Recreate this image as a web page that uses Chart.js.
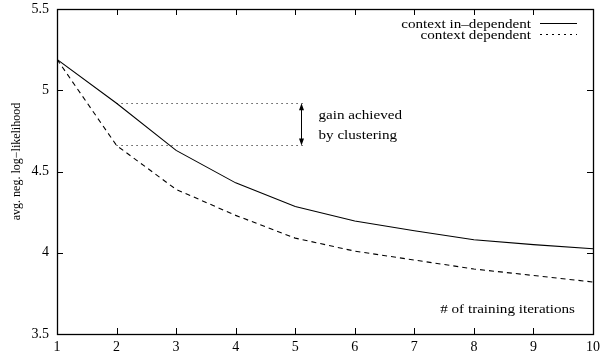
<!DOCTYPE html>
<html>
<head>
<meta charset="utf-8">
<script src="https://cdn.jsdelivr.net/npm/chart.js@4/dist/chart.umd.min.js"></script>
<style>
  html, body { margin: 0; padding: 0; background: #fff; }
  #wrap { width: 605px; height: 353px; position: relative; }
</style>
</head>
<body>
<div id="wrap"><canvas id="chart1" width="605" height="353"></canvas></div>
<script>
// data
const iterations = [1, 2, 3, 4, 5, 6, 7, 8, 9, 10];
const ctxIndependent = [5.19, 4.92, 4.63, 4.43, 4.285, 4.195, 4.135, 4.08, 4.05, 4.025];
const ctxDependent = [5.19, 4.66, 4.39, 4.23, 4.09, 4.01, 3.955, 3.9, 3.86, 3.82];
const seriesLabels = ['context in\u2013dependent', 'context dependent'];
const yTicks = [3.5, 4, 4.5, 5, 5.5];
const xTicks = iterations;

// "gain achieved by clustering" marker
const gainFrom = 2;
const gainTo = 5.15;
const gainArrowX = 5.1;
const gainTop = 4.92;
const gainBottom = 4.66;
const gainText = ['gain achieved', 'by clustering'];

const yTitle = 'avg. neg. log\u2212likelihood';
const xTitle = '# of training iterations';

const serif = '"Liberation Serif", "DejaVu Serif", serif';
const stretch = 1.26; // text in the picture is wider than tall

function wideText(ctx, txt, x, y, align) {
  ctx.save();
  ctx.translate(x, y);
  ctx.scale(stretch, 1);
  ctx.textAlign = align;
  ctx.textBaseline = 'alphabetic';
  ctx.fillText(txt, 0, 0);
  ctx.restore();
}

// frame with inward ticks on all four sides, plus texts and arrow
const gnuplotLook = {
  id: 'gnuplotLook',
  afterDatasetsDraw(chart) {
    const { ctx, chartArea: a, scales } = chart;
    const xs = scales.x, ys = scales.y;
    const tl = 6;
    ctx.save();
    ctx.strokeStyle = '#000';
    ctx.fillStyle = '#000';
    ctx.lineWidth = 1;

    // ticks
    ctx.beginPath();
    xTicks.forEach(v => {
      if (v === xs.min || v === xs.max) return;
      const px = Math.round(xs.getPixelForValue(v)) + 0.5;
      ctx.moveTo(px, a.bottom); ctx.lineTo(px, a.bottom - tl);
      ctx.moveTo(px, a.top); ctx.lineTo(px, a.top + tl);
    });
    yTicks.forEach(v => {
      if (v === ys.min || v === ys.max) return;
      const py = Math.round(ys.getPixelForValue(v)) + 0.5;
      ctx.moveTo(a.left, py); ctx.lineTo(a.left + tl, py);
      ctx.moveTo(a.right, py); ctx.lineTo(a.right - tl, py);
    });
    ctx.stroke();

    // border
    ctx.lineWidth = 1.3;
    ctx.strokeRect(a.left + 0.5, a.top + 0.5, a.right - a.left, a.bottom - a.top);

    // gain marker: dotted levels and double arrow
    ctx.lineWidth = 1;
    ctx.setLineDash([1, 4]);
    ctx.beginPath();
    [gainTop, gainBottom].forEach(v => {
      const py = Math.round(ys.getPixelForValue(v)) + 0.5;
      ctx.moveTo(xs.getPixelForValue(gainFrom), py);
      ctx.lineTo(xs.getPixelForValue(gainTo), py);
    });
    ctx.stroke();
    ctx.setLineDash([]);
    const ax = Math.round(xs.getPixelForValue(gainArrowX)) + 0.5;
    const ay1 = ys.getPixelForValue(gainTop);
    const ay2 = ys.getPixelForValue(gainBottom);
    ctx.beginPath();
    ctx.moveTo(ax, ay1 + 3); ctx.lineTo(ax, ay2 - 3);
    ctx.stroke();
    ctx.beginPath();
    ctx.moveTo(ax, ay1); ctx.lineTo(ax - 2.5, ay1 + 7); ctx.lineTo(ax + 2.5, ay1 + 7); ctx.closePath();
    ctx.moveTo(ax, ay2); ctx.lineTo(ax - 2.5, ay2 - 7); ctx.lineTo(ax + 2.5, ay2 - 7); ctx.closePath();
    ctx.fill();

    ctx.font = '12px ' + serif;
    wideText(ctx, gainText[0], ax + 17, ay1 + 16, 'left');
    wideText(ctx, gainText[1], ax + 17, ay1 + 36, 'left');

    // x title inside the plot
    wideText(ctx, xTitle, a.right - 18, a.bottom - 21, 'right');

    // key
    const keyRight = a.right - 62;
    wideText(ctx, seriesLabels[0], keyRight, a.top + 19, 'right');
    wideText(ctx, seriesLabels[1], keyRight, a.top + 30, 'right');
    ctx.lineWidth = 1.1;
    ctx.beginPath();
    ctx.moveTo(keyRight + 9, a.top + 14.5); ctx.lineTo(keyRight + 46, a.top + 14.5);
    ctx.stroke();
    ctx.setLineDash([2, 4]);
    ctx.beginPath();
    ctx.moveTo(keyRight + 9, a.top + 25.5); ctx.lineTo(keyRight + 46, a.top + 25.5);
    ctx.stroke();
    ctx.setLineDash([]);

    // y title
    ctx.save();
    ctx.translate(20, (a.top + a.bottom) / 2 - 10);
    ctx.rotate(-Math.PI / 2);
    ctx.font = '12px ' + serif;
    ctx.textAlign = 'center';
    ctx.textBaseline = 'alphabetic';
    ctx.fillText(yTitle, 0, 0);
    ctx.restore();

    ctx.restore();
  }
};

const toPoints = (vals) => vals.map((v, i) => ({ x: iterations[i], y: v }));

new Chart(document.getElementById('chart1').getContext('2d'), {
  type: 'line',
  data: {
    datasets: [
      {
        label: seriesLabels[0],
        data: toPoints(ctxIndependent),
        borderColor: '#000',
        borderWidth: 1.1,
        pointRadius: 0,
        tension: 0,
        fill: false
      },
      {
        label: seriesLabels[1],
        data: toPoints(ctxDependent),
        borderColor: '#000',
        borderWidth: 1.1,
        borderDash: [5, 4],
        pointRadius: 0,
        tension: 0,
        fill: false
      }
    ]
  },
  options: {
    responsive: false,
    animation: false,
    devicePixelRatio: 1,
    layout: { padding: { top: 9, right: 12, left: 0, bottom: 0 } },
    scales: {
      x: {
        type: 'linear',
        min: 1,
        max: 10,
        afterFit: (s) => { s.height = 19; s.paddingLeft = 0; s.paddingRight = 0; },
        afterBuildTicks: (s) => { s.ticks = xTicks.map(v => ({ value: v })); },
        grid: { display: false, drawTicks: false },
        border: { display: false },
        ticks: {
          color: '#000',
          padding: 5,
          font: { family: serif, size: 14 },
          maxRotation: 0,
          autoSkip: false
        }
      },
      y: {
        min: 3.5,
        max: 5.5,
        afterFit: (s) => { s.width = 57; s.paddingTop = 0; s.paddingBottom = 0; },
        afterBuildTicks: (s) => { s.ticks = yTicks.map(v => ({ value: v })); },
        grid: { display: false, drawTicks: false },
        border: { display: false },
        ticks: {
          color: '#000',
          padding: 8,
          font: { family: serif, size: 14 },
          callback: (v) => String(+v.toFixed(1))
        }
      }
    },
    plugins: {
      legend: { display: false },
      tooltip: { enabled: false }
    }
  },
  plugins: [gnuplotLook]
});
</script>
</body>
</html>
